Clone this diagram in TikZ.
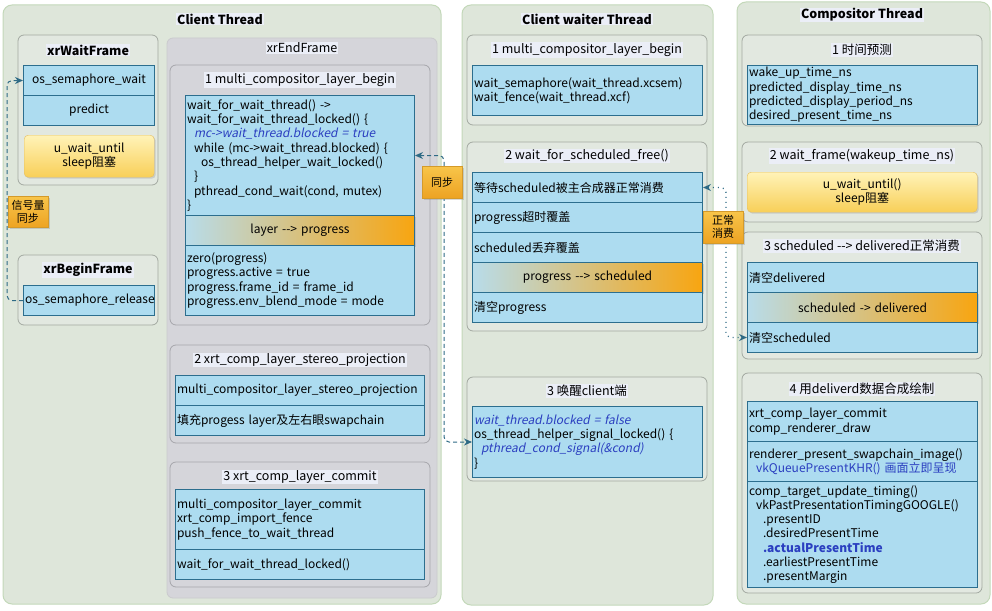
\documentclass[tikz,border=0pt]{standalone}
\usepackage{fontspec}
\setmainfont{Noto Sans CJK SC}[ItalicFont={Noto Sans CJK SC}, ItalicFeatures={FakeSlant=0.2}]
\usepackage{xcolor}
\usepackage{tikz}
\usetikzlibrary{positioning}
\usetikzlibrary{arrows.meta}
\usetikzlibrary{shadows}

\definecolor{panelfill}{HTML}{DEE6DA}
\definecolor{panelline}{HTML}{C3D8B9}
\definecolor{grpfill}{HTML}{E2E8E0}
\definecolor{grpline}{HTML}{A3A9A1}
\definecolor{endfill}{HTML}{D5D5DA}
\definecolor{endline}{HTML}{A6A6AB}
\definecolor{rowfill}{HTML}{ADDCF0}
\definecolor{rowline}{HTML}{2C6E8E}
\definecolor{titlebg}{HTML}{EBEEF7}
\definecolor{codeblue}{HTML}{2B3FC0}
\definecolor{linkcol}{HTML}{2E6A85}
\definecolor{bandleft}{HTML}{B8DCEA}
\definecolor{bandright}{HTML}{F8A510}
\definecolor{yeltop}{HTML}{FFF3B8}
\definecolor{yelbot}{HTML}{F8CF58}
\definecolor{yelline}{HTML}{E3BE62}
\definecolor{tagtop}{HTML}{F8C54A}
\definecolor{tagbot}{HTML}{EDA323}
\definecolor{tagline}{HTML}{D49A2A}

\newcommand\codefont{\fontsize{12}{14.3}\selectfont}
\newcommand\dd{\mbox{-}\mbox{-}}

\tikzset{
  panel/.style={draw=panelline, fill=panelfill, line width=1pt, rounded corners=9pt},
  grp/.style={draw=grpline, fill=grpfill, line width=0.8pt, rounded corners=6pt},
  endpanel/.style={draw=endline!60, fill=endfill, line width=0.8pt, rounded corners=6pt},
  endgrp/.style={draw=endline, fill=endfill, line width=0.8pt, rounded corners=6pt},
  ttl/.style={fill=titlebg, inner sep=1pt, font=\fontsize{12.5}{14}\selectfont},
  head/.style={fill=titlebg, inner sep=1pt, font=\bfseries\fontsize{12.5}{14}\selectfont},
  rowbox/.style 2 args={minimum width=#1pt, minimum height=#2pt, text width=#1pt-3pt},
  row/.style={draw=rowline, fill=rowfill, line width=1pt, anchor=north west,
    inner xsep=1.5pt, inner ysep=0pt, align=left, font=\codefont},
  crow/.style={align=center, font=\fontsize{12}{14.3}\selectfont},
  band/.style={row, left color=bandleft, right color=bandright, align=center,
    drop shadow={shadow xshift=1.5pt, shadow yshift=-1.5pt, opacity=0.25}},
  sleepbox/.style={draw=yelline, top color=yeltop, bottom color=yelbot, rounded corners=4pt,
    anchor=north west, inner xsep=1.5pt, inner ysep=0pt, align=center, font=\codefont,
    drop shadow={shadow xshift=1.5pt, shadow yshift=-1.5pt, opacity=0.25}},
  tag/.style={draw=tagline, top color=tagtop, bottom color=tagbot, inner sep=0pt,
    align=center, font=\fontsize{11}{13}\selectfont,
    drop shadow={shadow xshift=1.5pt, shadow yshift=-1.5pt, opacity=0.3}},
  link/.style={draw=linkcol, line width=1pt, dash pattern=on 4pt off 3pt, rounded corners=5pt},
  linkdot/.style={draw=linkcol, line width=1.3pt, dash pattern=on 1pt off 4pt, rounded corners=5pt},
  >={Stealth[length=8pt, width=7pt]}
}

\begin{document}
\begin{tikzpicture}[x=1pt, y=-1pt]
    \useasboundingbox (0,0) rectangle (992,610);

    % Thread panels
    \draw[panel] (3,5) rectangle (441,604);
    \draw[panel] (462,5) rectangle (713,605);
    \draw[panel] (737,2) rectangle (990,604);
    \node[head] (clientttl) at (220,19) {Client Thread};
    \node[head] (waiterttl) at (587,19) {Client waiter Thread};
    \node[head] (compttl) at (862,15) {Compositor Thread};

    % xrWaitFrame
    \draw[grp] (18,35) rectangle (158,185);
    \node[head] (waitfttl) at (88,50) {xrWaitFrame};
    \node[row, crow, rowbox={131}{30}] (semwait) at (23,65) {os\_semaphore\_wait};
    \node[row, crow, rowbox={131}{30}] (predict) at (23,95) {predict};
    \node[sleepbox, rowbox={130}{42}] (sleepA) at (24,135) {u\_wait\_until\\sleep阻塞};

    % xrBeginFrame
    \draw[grp] (18,255) rectangle (158,325);
    \node[head] (beginttl) at (88,270) {xrBeginFrame};
    \node[row, crow, rowbox={131}{30}] (semrel) at (23,285) {os\_semaphore\_release};

    % xrEndFrame
    \draw[endpanel] (167,38) rectangle (437,598);
    \node[ttl] (endttl) at (302,48) {xrEndFrame};

    \draw[endgrp] (170,65) rectangle (430,325);
    \node[ttl] (efttlA) at (300,80) {1 multi\_compositor\_layer\_begin};
    \node[row, rowbox={229}{120}] (codeA) at (185,95) {%
        wait\_for\_wait\_thread() ->\\
        wait\_for\_wait\_thread\_locked() \{\\
        \hspace*{7pt}{\color{codeblue}\itshape mc->wait\_thread.blocked = true}\\
        \hspace*{7pt}while (mc->wait\_thread.blocked) \{\\
        \hspace*{14pt}os\_thread\_helper\_wait\_locked()\\
        \hspace*{7pt}\}\\
        \hspace*{7pt}pthread\_cond\_wait(cond, mutex)\\
        \}};
    \node[band, rowbox={229}{30}] (bandA) at (185,215) {layer \dd> progress};
    \node[row, rowbox={229}{70}] (codeB) at (185,245) {%
        zero(progress)\\
        progress.active = true\\
        progress.frame\_id = frame\_id\\
        progress.env\_blend\_mode = mode};

    \draw[endgrp] (170,345) rectangle (430,443);
    \node[ttl] (efttlB) at (300,360) {2 xrt\_comp\_layer\_stereo\_projection};
    \node[row, rowbox={249}{30}] (stereoA) at (175,375) {multi\_compositor\_layer\_stereo\_projection};
    \node[row, rowbox={249}{30}] (stereoB) at (175,405) {填充progess layer及左右眼swapchain};

    \draw[endgrp] (170,462) rectangle (430,587);
    \node[ttl] (efttlC) at (300,477) {3 xrt\_comp\_layer\_commit};
    \node[row, rowbox={249}{60}] (commitA) at (175,489) {%
        multi\_compositor\_layer\_commit\\
        xrt\_comp\_import\_fence\\
        push\_fence\_to\_wait\_thread};
    \node[row, rowbox={249}{30}] (commitB) at (175,549) {wait\_for\_wait\_thread\_locked()};

    % Client waiter Thread
    \draw[grp] (467,35) rectangle (707,125);
    \node[ttl] (wttlA) at (587,50) {1 multi\_compositor\_layer\_begin};
    \node[row, rowbox={230}{50}] (waitsem) at (472,65) {%
        wait\_semaphore(wait\_thread.xcsem)\\
        wait\_fence(wait\_thread.xcf)};

    \draw[grp] (467,142) rectangle (707,331);
    \node[ttl] (wttlB) at (587,156) {2 wait\_for\_scheduled\_free()};
    \node[row, rowbox={230}{30}] (freeA) at (472,172) {等待scheduled被主合成器正常消费};
    \node[row, rowbox={230}{30}] (freeB) at (472,202) {progress超时覆盖};
    \node[row, rowbox={230}{30}] (freeC) at (472,232) {scheduled丢弃覆盖};
    \node[band, rowbox={230}{30}] (freeD) at (472,262) {progress \dd> scheduled};
    \node[row, rowbox={230}{30}] (freeE) at (472,292) {清空progress};

    \draw[grp] (467,377) rectangle (707,481);
    \node[ttl] (wttlC) at (587,391) {3 唤醒client端};
    \node[row, rowbox={230}{71}] (wake) at (472,406) {%
        {\color{codeblue}\itshape wait\_thread.blocked = false}\\
        os\_thread\_helper\_signal\_locked() \{\\
        \hspace*{7pt}{\color{codeblue}\itshape pthread\_cond\_signal(\&cond)}\\
        \}};

    % Compositor Thread
    \draw[grp] (742,35) rectangle (982,126);
    \node[ttl] (cttlA) at (862,50) {1 时间预测};
    \node[row, rowbox={230}{59}] (predbox) at (747,65) {%
        wake\_up\_time\_ns\\
        predicted\_display\_time\_ns\\
        predicted\_display\_period\_ns\\
        desired\_present\_time\_ns};

    \draw[grp] (742,142) rectangle (982,222);
    \node[ttl] (cttlB) at (862,156) {2 wait\_frame(wakeup\_time\_ns)};
    \node[sleepbox, rowbox={230}{40}] (sleepB) at (747,172) {u\_wait\_until()\\sleep阻塞};

    \draw[grp] (742,232) rectangle (982,359);
    \node[ttl] (cttlC) at (862,246) {3 scheduled \dd> delivered正常消费};
    \node[row, rowbox={230}{30}] (delA) at (747,262) {清空delivered};
    \node[band, rowbox={230}{30}] (delB) at (747,292) {scheduled -> delivered};
    \node[row, rowbox={230}{30}] (delC) at (747,322) {清空scheduled};

    \draw[grp] (742,373) rectangle (982,593);
    \node[ttl] (cttlD) at (862,389) {4 用deliverd数据合成绘制};
    \node[row, rowbox={230}{40}] (drawA) at (747,401) {%
        xrt\_comp\_layer\_commit\\
        comp\_renderer\_draw};
    \node[row, rowbox={230}{40}] (drawB) at (747,441) {%
        renderer\_present\_swapchain\_image()\\
        \hspace*{7pt}{\color{codeblue}vkQueuePresentKHR() 画面立即呈现}};
    \node[row, rowbox={230}{106}] (drawC) at (747,481) {%
        comp\_target\_update\_timing()\\
        \hspace*{7pt}vkPastPresentationTimingGOOGLE()\\
        \hspace*{14pt}.presentID\\
        \hspace*{14pt}.desiredPresentTime\\
        \hspace*{14pt}{\color{codeblue}\bfseries .actualPresentTime}\\
        \hspace*{14pt}.earliestPresentTime\\
        \hspace*{14pt}.presentMargin};

    % Connectors
    \draw[link, ->] (semrel.west) -- ++(-16,0) |- (semwait.west);
    \draw[link, <->] (codeA.east) -- ++(29,0) |- (wake.west);
    \draw[linkdot, <->] (freeA.east) -- ++(23,0) |- (delC.west);

    % Labels on connectors
    \node[tag, minimum width=40pt, minimum height=31pt] (semtag) at (28,212) {信号量\\同步};
    \node[tag, minimum width=40pt, minimum height=32pt] (synctag) at (442,182) {同步};
    \node[tag, minimum width=40pt, minimum height=32pt] (usetag) at (723,227) {正常\\消费};
\end{tikzpicture}
\end{document}
